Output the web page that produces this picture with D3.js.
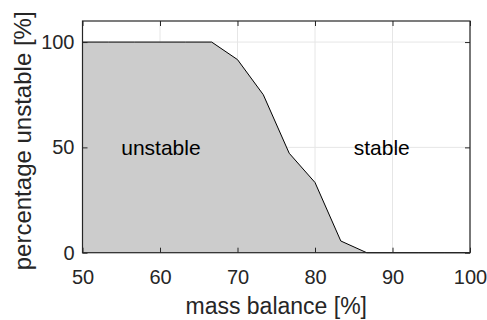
<!DOCTYPE html>
<html><head><meta charset="utf-8">
<script src="https://cdn.jsdelivr.net/npm/d3@7"></script>
<style>body{margin:0;background:#fff}svg{display:block}text{font-family:"Liberation Sans",Arial,sans-serif;fill:#262626}</style>
</head><body>
<script>
const massBalance = [50, 53.33, 56.67, 60, 63.33, 66.67, 70, 73.33, 76.67, 80, 83.33, 86.67, 90, 93.33, 96.67, 100];
const pctUnstable = [100, 100, 100, 100, 100, 100, 91.67, 75, 47.22, 33.33, 5.56, 0, 0, 0, 0, 0];
const xTicks = [50, 60, 70, 80, 90, 100];
const yTicks = [0, 50, 100];
const annotations = [{text: "unstable", x: 55, y: 50}, {text: "stable", x: 85, y: 50}];

const W = 487, H = 320;
const L = 82.5, R = 470, T = 21, B = 252.7;
const svg = d3.select("body").append("svg").attr("width", W).attr("height", H);
const x = d3.scaleLinear().domain([50, 100]).range([L, R]);
const y = d3.scaleLinear().domain([0, 110]).range([B, T]);
const data = massBalance.map((m, i) => ({m, p: pctUnstable[i]}));

// grid
svg.append("g").selectAll("line.gx").data(xTicks).join("line")
  .attr("x1", d => x(d)).attr("x2", d => x(d)).attr("y1", T).attr("y2", B)
  .attr("stroke", "#e6e6e6").attr("stroke-width", 1);
svg.append("g").selectAll("line.gy").data(yTicks).join("line")
  .attr("x1", L).attr("x2", R).attr("y1", d => y(d)).attr("y2", d => y(d))
  .attr("stroke", "#e6e6e6").attr("stroke-width", 1);

// area
svg.append("path").datum(data)
  .attr("d", d3.area().x(d => x(d.m)).y0(y(0)).y1(d => y(d.p)))
  .attr("fill", "#cccccc");
svg.append("path").datum(data)
  .attr("d", d3.line().x(d => x(d.m)).y(d => y(d.p)))
  .attr("fill", "none").attr("stroke", "#000").attr("stroke-width", 1);

// annotations
svg.selectAll("text.ann").data(annotations).join("text")
  .attr("x", d => x(d.x)).attr("y", d => y(d.y) + 8)
  .attr("font-size", 21).style("fill", "#000").text(d => d.text);

// axes
const ax = "#262626";
const xAxis = d3.axisBottom(x).tickValues(xTicks).tickSizeInner(-5).tickSizeOuter(0).tickPadding(12);
const gx = svg.append("g").attr("transform", `translate(0,${B})`).call(xAxis);
const xAxisTop = d3.axisTop(x).tickValues(xTicks).tickSizeInner(-5).tickSizeOuter(0).tickFormat("");
const gxt = svg.append("g").attr("transform", `translate(0,${T})`).call(xAxisTop);
const yAxis = d3.axisLeft(y).tickValues(yTicks).tickSizeInner(-5).tickSizeOuter(0).tickPadding(8);
const gy = svg.append("g").attr("transform", `translate(${L},0)`).call(yAxis);
const yAxisR = d3.axisRight(y).tickValues(yTicks).tickSizeInner(-5).tickSizeOuter(0).tickFormat("");
const gyr = svg.append("g").attr("transform", `translate(${R},0)`).call(yAxisR);
[gx, gxt, gy, gyr].forEach(g => {
  g.select(".domain").remove();
  g.selectAll("line").attr("stroke", ax).attr("stroke-width", 1);
  g.selectAll("text").attr("font-size", 20).attr("font-family", "Liberation Sans, Arial, sans-serif").style("fill", ax);
});
gx.selectAll("text").attr("dy", null).attr("y", 31);
svg.append("rect").attr("x", L).attr("y", T).attr("width", R - L).attr("height", B - T)
  .attr("fill", "none").attr("stroke", ax).attr("stroke-width", 1.2);

// labels
svg.append("text").attr("x", (L + R) / 2).attr("y", 314).attr("text-anchor", "middle")
  .attr("font-size", 23).text("mass balance [%]");
svg.append("text").attr("transform", `translate(31,${(T + B) / 2 + 4}) rotate(-90)`)
  .attr("text-anchor", "middle").attr("font-size", 24).text("percentage unstable [%]");
</script>
</body></html>
